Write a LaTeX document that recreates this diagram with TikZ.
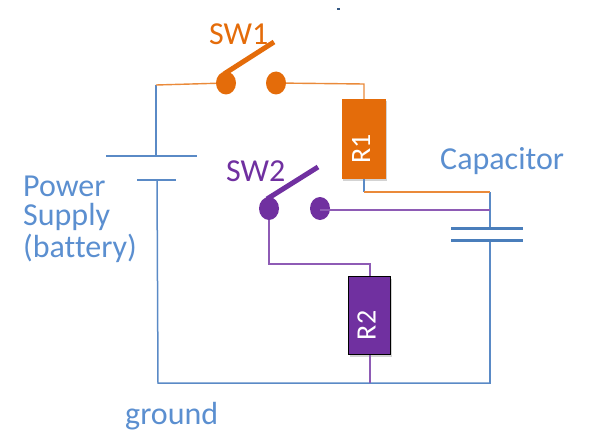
\documentclass[tikz,border=0pt]{standalone}
\usepackage{fontspec}
\setmainfont{Carlito}[Ligatures=CommonOff]
\usetikzlibrary{shadows,shapes.geometric}
\definecolor{oran}{HTML}{E46C0A}
\definecolor{orwire}{HTML}{EA8A3A}
\definecolor{purp}{HTML}{7030A0}
\definecolor{puwire}{HTML}{8E5BB5}
\definecolor{blu}{HTML}{5B8FD0}
\definecolor{bluw}{HTML}{5A8AC6}
\definecolor{capb}{HTML}{4A7EBB}
\tikzset{
  lbl/.style={font=\fontsize{32}{36}\selectfont,inner sep=0pt,anchor=west},
  dot/.style={ellipse,minimum width=20pt,minimum height=23pt,inner sep=0pt,fill=#1},
  res/.style={rectangle,minimum width=44pt,minimum height=80pt,inner sep=0pt,text=white,
    drop shadow={shadow xshift=1pt,shadow yshift=-2pt,opacity=.35},
    font=\fontsize{28}{32}\selectfont},
  blade/.style={line width=5pt},
  owire/.style={draw=orwire,line width=1.4pt},
  pwire/.style={draw=puwire,line width=1.4pt},
  bwire/.style={draw=bluw,line width=1.5pt},
  capplate/.style={draw=capb,line width=3pt},
}
\begin{document}
\begin{tikzpicture}[x=1pt,y=-1pt]
\useasboundingbox (0,0) rectangle (593,441);
% named points
\coordinate (battop) at (156,85);
\coordinate (platea1) at (106,156);
\coordinate (platea2) at (197,156);
\coordinate (plateam) at (156,156);
\coordinate (plateb1) at (137,180);
\coordinate (plateb2) at (176,180);
\coordinate (platebm) at (157,180);
\coordinate (gndl) at (158,383);
\coordinate (gndr) at (489,383);
\coordinate (gndm) at (370,383);
\coordinate (ctop) at (490,192);
\coordinate (cjoin) at (490,210);
\coordinate (cplatea) at (490,228);
\coordinate (cplateb) at (490,240);
\coordinate (cbot) at (490,384);
\coordinate (r1bend) at (364,192);
% speck
\fill[capb!70!black] (337,8.5) rectangle (339.5,9.8);
% wires
\draw[bwire] (battop) -- (plateam);
\draw[bwire] (platea1) -- (platea2);
\draw[bwire] (plateb1) -- (plateb2);
\draw[bwire] (platebm) -- (gndl) -- (gndr);
\draw[bwire] (ctop) -- (cplatea);
\draw[bwire] (cplateb) -- (cbot);
\draw[capplate] (451,228) -- (523,228);
\draw[capplate] (451,240) -- (523,240);
% SW1
\node[dot=oran] (s1a) at (226,83) {};
\node[dot=oran] (s1b) at (276,83) {};
\node[res,fill=oran] (r1) at (364,139) {\kern-6pt\rotatebox{90}{R1\hspace{20pt}}};
\coordinate (s1tip) at (274,42);
\coordinate (s1root) at (224,74);
\draw[blade,draw=oran] (s1root) -- (s1tip);
\draw[owire] (battop) -- (s1a);
\draw[owire] (s1b) -- (364,84) -- (r1.north);
\draw[bwire] (r1.south) -- (r1bend);
\draw[owire] (r1bend) -- (ctop);
% SW2
\node[dot=purp] (s2a) at (269,208.5) {};
\node[dot=purp] (s2b) at (320,208.5) {};
\node[res,fill=purp,draw=black,line width=1.2pt,minimum width=42pt,minimum height=78pt] (r2) at (369.5,315.5) {\kern-6pt\rotatebox{90}{R2\hspace{20pt}}};
\coordinate (s2tip) at (318,167);
\coordinate (s2root) at (267,199);
\draw[blade,draw=purp] (s2root) -- (s2tip);
\draw[pwire] (s2b.center |- cjoin) -- (cjoin);
\draw[pwire] (s2a) -- (269,264) -- (370,264) -- (370,276);
\draw[pwire] (370,355) -- (gndm);
% labels
\node[lbl,text=oran] (l1) at (209,34) {SW1};
\node[lbl,text=purp] (l2) at (226,171) {SW2};
\node[lbl,text=blu] (l3) at (440,161) {Capacitor};
\node[lbl,text=blu] (l4) at (23,186) {Power};
\node[lbl,text=blu] (l5) at (23,217) {Supply};
\node[lbl,text=blu] (l6) at (23,248) {(battery)};
\node[lbl,text=blu] (l7) at (125,416) {ground};
\end{tikzpicture}
\end{document}
